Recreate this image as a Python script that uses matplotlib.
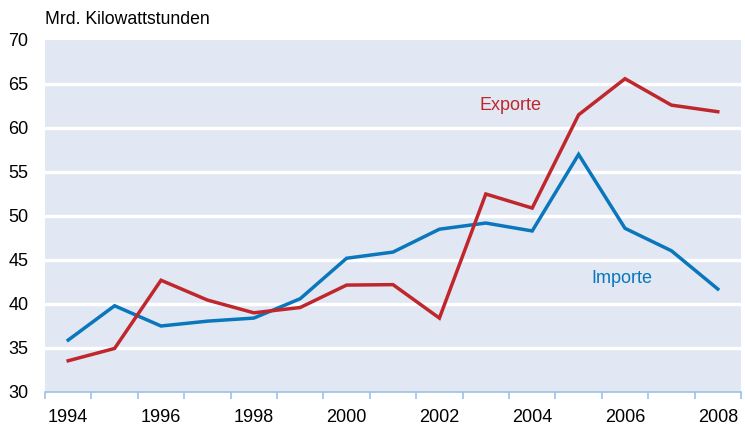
import matplotlib
matplotlib.use("Agg")
import matplotlib.pyplot as plt
import numpy as np

years = list(range(1994, 2009))
importe = [35.9, 39.8, 37.5, 38.05, 38.4, 40.6, 45.2, 45.9, 48.5, 49.2, 48.3, 57.0, 48.6, 46.05, 41.7]
exporte = [33.55, 34.95, 42.7, 40.45, 39.0, 39.6, 42.15, 42.2, 38.4, 52.5, 50.9, 61.5, 65.6, 62.6, 61.85]
yticks = [30, 35, 40, 45, 50, 55, 60, 65, 70]
xlabels = [str(y) for y in years if y % 2 == 0]

plt.rcParams['font.family'] = ['Liberation Sans', 'DejaVu Sans']

W, H = 745, 425
fig = plt.figure(figsize=(W/100, H/100), dpi=100)
ax = fig.add_axes([45/W, (H-392)/H, (741-45)/W, (392-40)/H])
ax.set_facecolor('#E1E8F3')

red = '#C0272D'
blue = '#0A76BC'
x = np.arange(len(years))
ax.plot(x, importe, color=blue, lw=2.5, solid_joinstyle='miter', zorder=3)
ax.plot(x, exporte, color=red, lw=2.5, solid_joinstyle='miter', zorder=3)

ax.set_xlim(-0.5, len(years) - 0.5)
ax.set_ylim(30, 70)
for g in yticks[1:-1]:
    ax.axhline(g, color='white', lw=2.4, zorder=2)

ax.set_yticks(yticks)
ax.set_yticklabels([str(v) for v in yticks], fontsize=13)
ax.tick_params(axis='y', length=0, pad=12)

major = [i for i, y in enumerate(years) if y % 2 == 0]
ax.set_xticks(major)
ax.set_xticklabels(xlabels, fontsize=13)
ax.tick_params(axis='x', which='major', length=0, pad=12)
ax.set_xticks(np.arange(-0.5, len(years), 1.0), minor=True)
ax.tick_params(axis='x', which='minor', length=5, width=1.2, color='#9CC2E5')

for s in ['top', 'left', 'right']:
    ax.spines[s].set_visible(False)
ax.spines['bottom'].set_color('#9CC2E5')
ax.spines['bottom'].set_linewidth(1.2)

ax.text(9.54, 62.6, 'Exporte', color=red, fontsize=13, ha='center', va='center')
ax.text(11.93, 42.95, 'Importe', color=blue, fontsize=13, ha='center', va='center')

fig.text(45/W, 1 - 20/H, 'Mrd. Kilowattstunden', fontsize=12.7, ha='left', va='center')

fig.savefig('out.png', dpi=100)
